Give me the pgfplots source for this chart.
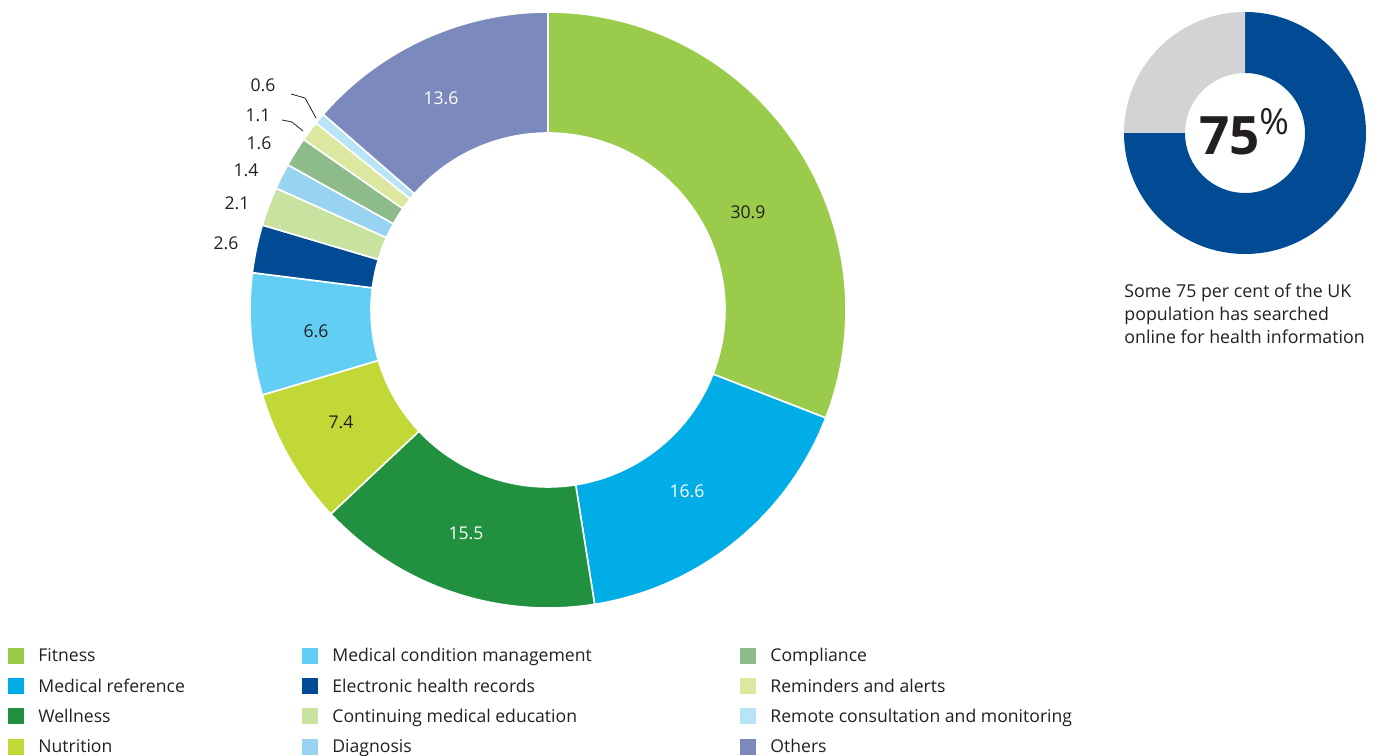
\documentclass[border=0pt]{standalone}
\usepackage{fontspec}
\setmainfont{Open Sans}
\usepackage{pgfplots}
\usepackage{pgfplotstable}
\pgfplotsset{compat=1.18}

\definecolor{txt}{HTML}{231F20}
\definecolor{cFit}{HTML}{9BCB4B}
\definecolor{cRef}{HTML}{00ADE6}
\definecolor{cWel}{HTML}{21913F}
\definecolor{cNut}{HTML}{C1D837}
\definecolor{cMcm}{HTML}{63CEF4}
\definecolor{cEhr}{HTML}{004B93}
\definecolor{cCme}{HTML}{C8E2A0}
\definecolor{cDia}{HTML}{98D4F2}
\definecolor{cCom}{HTML}{8DBB8A}
\definecolor{cRem}{HTML}{DCE7A0}
\definecolor{cRmt}{HTML}{B8E4F7}
\definecolor{cOth}{HTML}{7B89BD}
\definecolor{cGry}{HTML}{D1D3D4}

% share of apps by category, ring order clockwise from the top
% lx, ly: where the value is written (pixels, y upwards)
\pgfplotstableread[col sep=comma]{
name,value,color,tc,lx,ly
Fitness,30.9,cFit,txt,748,543
Medical reference,16.6,cRef,white,687,264
Wellness,15.5,cWel,white,466,222
Nutrition,7.4,cNut,txt,341,333
Medical condition management,6.6,cMcm,txt,316,424
Electronic health records,2.6,cEhr,txt,226,512
Continuing medical education,2.1,cCme,txt,237,552
Diagnosis,1.4,cDia,txt,246,585
Compliance,1.6,cCom,txt,259,612
Reminders and alerts,1.1,cRem,txt,258,640
Remote consultation and monitoring,0.6,cRmt,txt,263,670
Others,13.6,cOth,white,441,657
}\apps

\def\ukshare{75}

\begin{document}
\begin{tikzpicture}
\begin{axis}[
    width=690.5pt, height=377.5pt, scale only axis,
    xmin=0, xmax=1381, ymin=0, ymax=755,
    hide axis, clip=false,
]
\coordinate (LL) at (axis cs:0,0);
\coordinate (UR) at (axis cs:1381,755);

\def\cum{0}
\pgfplotsforeachungrouped \i in {0,...,11}{%
  \pgfplotstablegetelem{\i}{value}\of\apps \let\v\pgfplotsretval
  \pgfplotstablegetelem{\i}{color}\of\apps \let\c\pgfplotsretval
  \pgfplotstablegetelem{\i}{tc}\of\apps \let\tc\pgfplotsretval
  \pgfplotstablegetelem{\i}{lx}\of\apps \let\lx\pgfplotsretval
  \pgfplotstablegetelem{\i}{ly}\of\apps \let\ly\pgfplotsretval
  \pgfplotstablegetelem{\i}{name}\of\apps \let\nm\pgfplotsretval
  \pgfmathsetmacro\aS{90-3.6*\cum}
  \pgfmathsetmacro\cum{\cum+\v}
  \pgfmathsetmacro\aE{90-3.6*\cum}
  % ring sector
  \edef\cmd{\noexpand\fill[\c, draw=white, line width=0.8pt]
    (axis cs:548,445) ++(\aS:149pt)
    arc[start angle=\aS, end angle=\aE, radius=149pt]
    -- ++(\aE:-60.5pt)
    arc[start angle=\aE, end angle=\aS, radius=88.5pt] -- cycle;
    \noexpand\node[text=\tc, font=\noexpand\fontsize{8.8}{10}\noexpand\selectfont]
      at (axis cs:\lx,\ly) {\v};}
  \cmd
  % legend entry
  \pgfmathtruncatemacro\col{\i/4}
  \pgfmathtruncatemacro\row{mod(\i,4)}
  \ifcase\col \def\sx{8}\or\def\sx{302}\or\def\sx{740}\fi
  \pgfmathsetmacro\yc{99-30.2*\row}
  \edef\cmd{\noexpand\fill[\c] (axis cs:\sx,\yc-8) rectangle (axis cs:\sx+16,\yc+8);
    \noexpand\node[anchor=base west, inner sep=0pt, text=txt,
      font=\noexpand\fontsize{8.8}{10}\noexpand\selectfont]
      at (axis cs:\sx+30,\yc-6) {\nm};}
  \cmd
}

% leader lines for the two smallest slices
\addplot[txt, line width=0.4pt] coordinates {(291,661) (305,657) (316,637)};
\addplot[txt, line width=0.4pt] coordinates {(282,635) (292,633) (303,624)};

% UK online health search share
\pgfmathsetmacro\ukE{90-3.6*\ukshare}
\edef\cmd{\noexpand\fill[cEhr] (axis cs:1245,622) ++(90:60.5pt)
  arc[start angle=90, end angle=\ukE, radius=60.5pt] -- ++(\ukE:-30.5pt)
  arc[start angle=\ukE, end angle=90, radius=30pt] -- cycle;
  \noexpand\fill[cGry] (axis cs:1245,622) ++(\ukE:60.5pt)
  arc[start angle=\ukE, end angle=-270, radius=60.5pt] -- ++(-270:-30.5pt)
  arc[start angle=-270, end angle=\ukE, radius=30pt] -- cycle;}
\cmd
\node[anchor=base west, inner sep=0pt, text=txt,
  font=\fontsize{26.5}{27}\selectfont\bfseries] at (axis cs:1199,600) {75};
\node[anchor=base west, inner sep=0pt, text=txt,
  font=\fontsize{18}{18}\selectfont] at (axis cs:1259,620) {\%};

\node[anchor=base west, inner sep=0pt, text=txt, font=\fontsize{8.9}{10}\selectfont]
  at (axis cs:1124,457) {Some 75 per cent of the UK};
\node[anchor=base west, inner sep=0pt, text=txt, font=\fontsize{8.9}{10}\selectfont]
  at (axis cs:1124,434) {population has searched};
\node[anchor=base west, inner sep=0pt, text=txt, font=\fontsize{8.9}{10}\selectfont]
  at (axis cs:1124,411) {online for health information};
\end{axis}
\pgfresetboundingbox
\path[use as bounding box] (LL) rectangle (UR);
\end{tikzpicture}
\end{document}
